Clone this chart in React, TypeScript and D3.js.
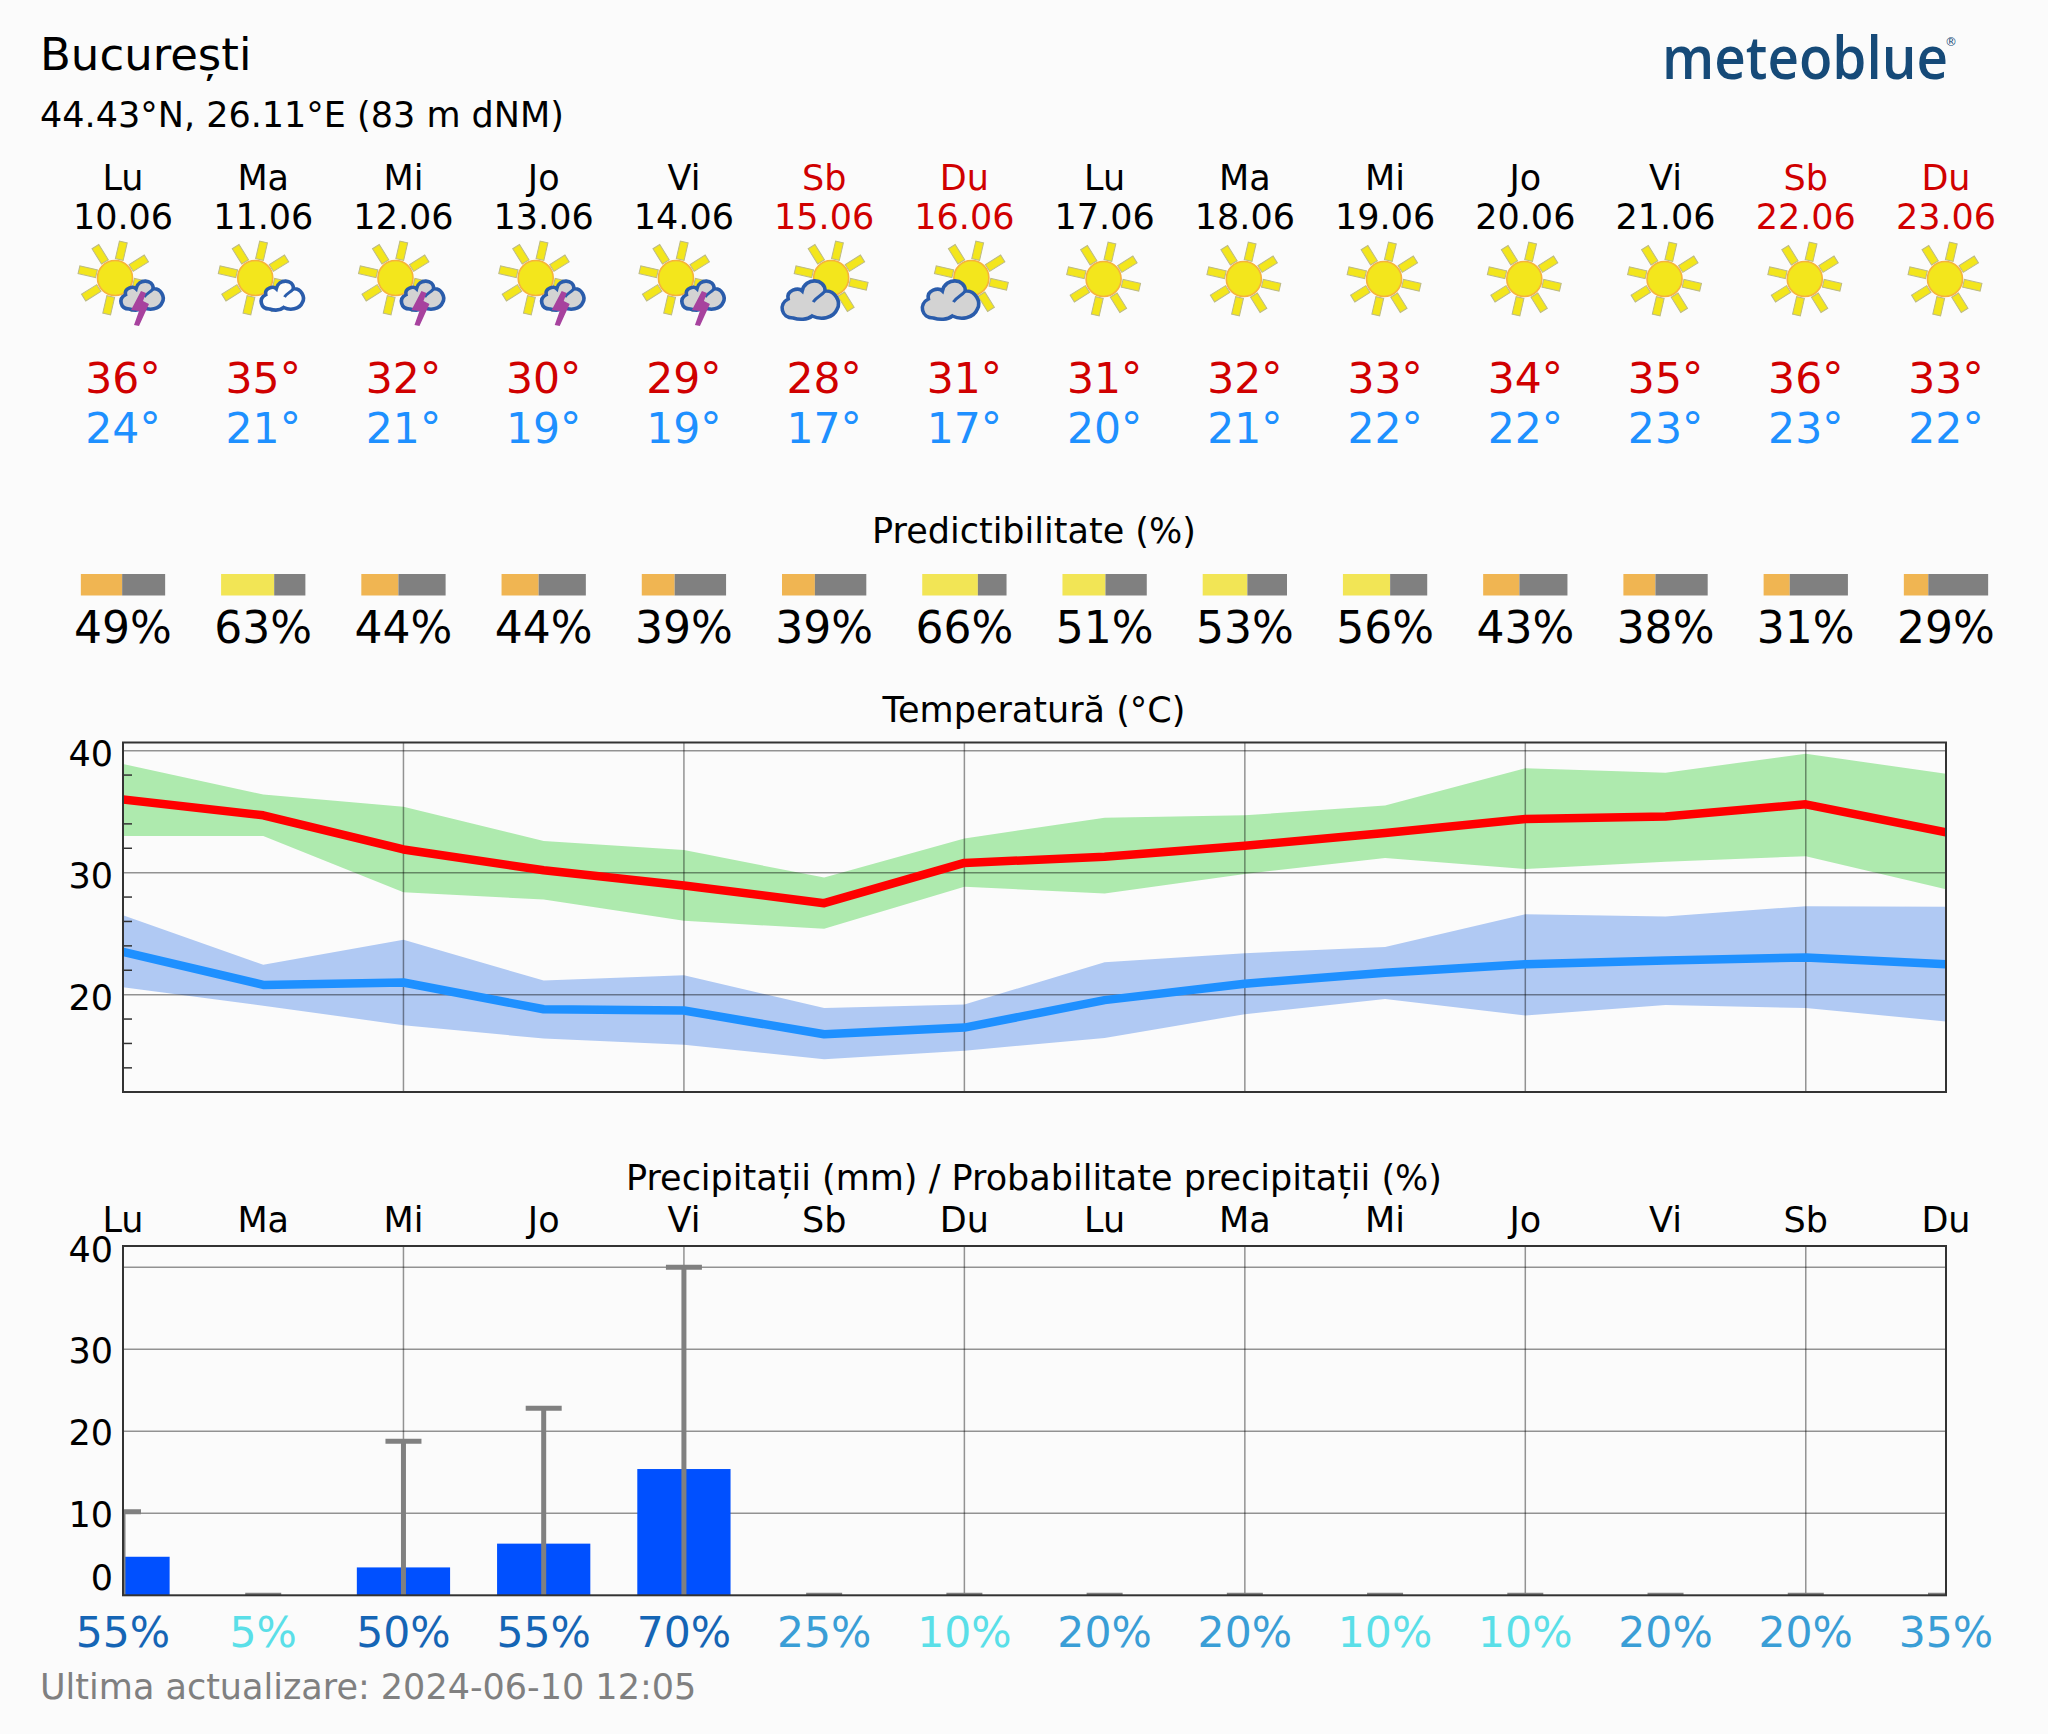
import React from "react";
import * as d3 from "d3";

const weekdays = ["Lu", "Ma", "Mi", "Jo", "Vi", "Sb", "Du", "Lu", "Ma", "Mi", "Jo", "Vi", "Sb", "Du"];
const dates = ["10.06", "11.06", "12.06", "13.06", "14.06", "15.06", "16.06", "17.06", "18.06", "19.06", "20.06", "21.06", "22.06", "23.06"];
const icons = ["storm", "cloud", "storm", "storm", "storm", "grey", "grey", "sun", "sun", "sun", "sun", "sun", "sun", "sun"];
const maxLabels = [36, 35, 32, 30, 29, 28, 31, 31, 32, 33, 34, 35, 36, 33];
const minLabels = [24, 21, 21, 19, 19, 17, 17, 20, 21, 22, 22, 23, 23, 22];
const predictability = [49, 63, 44, 44, 39, 39, 66, 51, 53, 56, 43, 38, 31, 29];
const tMax = [36.0, 34.7, 31.9, 30.2, 28.95, 27.5, 30.8, 31.3, 32.2, 33.25, 34.4, 34.6, 35.6, 33.3];
const tMaxHigh = [38.9, 36.4, 35.4, 32.6, 31.85, 29.6, 32.8, 34.5, 34.7, 35.5, 38.55, 38.2, 39.75, 38.1];
const tMaxLow = [33.0, 33.0, 28.4, 27.8, 26.05, 25.4, 28.85, 28.3, 29.9, 31.2, 30.3, 30.9, 31.35, 28.65];
const tMin = [23.5, 20.8, 21.0, 18.8, 18.7, 16.75, 17.3, 19.55, 20.9, 21.8, 22.5, 22.8, 23.05, 22.5];
const tMinHigh = [26.5, 22.45, 24.5, 21.15, 21.6, 18.9, 19.2, 22.65, 23.4, 23.9, 26.6, 26.4, 27.25, 27.2];
const tMinLow = [20.6, 19.1, 17.5, 16.4, 15.9, 14.7, 15.4, 16.45, 18.4, 19.65, 18.3, 19.15, 18.9, 17.8];
const tempTicks = [40, 30, 20];
const tempMinorTicks = [38, 36, 34, 32, 28, 26, 24, 22, 18, 16, 14];
const precip = [4.7, 0, 3.4, 6.3, 15.4, 0, 0, 0, 0, 0, 0, 0, 0, 0];
const precipHigh = [10.2, 0, 18.8, 22.8, 40, 0, 0, 0, 0, 0, 0, 0, 0, 0];
const precipTicks = [40, 30, 20, 10, 0];
const precipProb = [55, 5, 50, 55, 70, 25, 10, 20, 20, 10, 10, 20, 20, 35];
const gridDays = [2, 4, 6, 8, 10, 12];

const FONT = "'DejaVu Sans', sans-serif";
const BG = "#fbfbfb";
const RED = "#d00000";
const L = 123;
const R = 1946;
const days = d3.range(14);
const x = d3.scaleLinear().domain([0, 13]).range([L, R]);
const yT = d3.scaleLinear().domain([12.02, 40.67]).range([1092, 742.5]);
const yP = d3.scaleLinear().domain([0, 42.6]).range([1595.3, 1246]);

const areaPath = (hi: number[], lo: number[]) =>
  d3.area<number>().x((i) => x(i)).y0((i) => yT(lo[i])).y1((i) => yT(hi[i]))(days) as string;
const linePath = (v: number[]) =>
  d3.line<number>().x((i) => x(i)).y((i) => yT(v[i]))(days) as string;

const probColor = (p: number) => (p >= 50 ? "#1565b5" : p >= 20 ? "#3a9ed6" : "#5adfe8");

const CLOUD =
  "M-17 20 C-29 20 -32 6 -22 1 C-24 -8 -12 -11 -8 -7 C-5 -21 15 -20 15 -7 C25 -8 31 4 27 11 C23 21 10 22 2 18 C-3 22 -11 22 -17 20 Z";
const CURL = "M3 4 C6 -1 11 -2 15 -7";
const BOLT = "M-2 -2 L3 0 L0 8 L6 11 L-4 33 L-9 32 L-4 18 L-12 17 Z";

function Sun({ cx, cy }: { cx: number; cy: number }) {
  const angles = [13, 58, 103, 148, 193, 238, 283, 328];
  return (
    <g transform={`translate(${cx},${cy})`}>
      {angles.map((a) => (
        <rect key={a} x={19} y={-4} width={18} height={8} fill="#f3e61c" stroke="#bdbb86" strokeWidth={1} transform={`rotate(${a})`} />
      ))}
      <circle r={17.5} fill="#f3e61c" stroke="#f6b23c" strokeWidth={1.6} />
    </g>
  );
}

function Cloud({ cx, cy, k, fill }: { cx: number; cy: number; k: number; fill: string }) {
  return (
    <g transform={`translate(${cx},${cy}) scale(${k})`}>
      <path d={CLOUD} fill={fill} stroke="#2a5cab" strokeWidth={3.6 / k} />
      <path d={CURL} fill="none" stroke="#2a5cab" strokeWidth={3 / k} />
    </g>
  );
}

function Icon({ kind, cx }: { kind: string; cx: number }) {
  if (kind === "sun") return <Sun cx={cx - 1} cy={279} />;
  if (kind === "grey")
    return (
      <g>
        <Sun cx={cx + 7} cy={278} />
        <Cloud cx={cx - 14} cy={298} k={1} fill="#d3d3d3" />
      </g>
    );
  return (
    <g>
      <Sun cx={cx - 8} cy={278} />
      <Cloud cx={cx + 19} cy={294} k={0.75} fill={kind === "storm" ? "#d3d3d3" : BG} />
      {kind === "storm" && <path d={BOLT} transform={`translate(${cx + 20},293)`} fill="#a7429e" />}
    </g>
  );
}

function Frame({ top, bottom }: { top: number; bottom: number }) {
  return <rect x={L} y={top} width={R - L} height={bottom - top} fill="none" stroke="#333" strokeWidth={2} />;
}

export default function App() {
  const barW = (x(1) - x(0)) * 0.665;
  const capW = 36;
  return (
    <svg width={2048} height={1734} style={{ position: "absolute", left: 0, top: 0, background: BG }} fontFamily={FONT}>
      <defs>
        <clipPath id="tempClip"><rect x={L} y={742.5} width={R - L} height={349.5} /></clipPath>
        <clipPath id="precipClip"><rect x={L} y={1246} width={R - L} height={349.3} /></clipPath>
        <filter id="soft" x="-10%" y="-10%" width="120%" height="120%"><feGaussianBlur stdDeviation="0.6" /></filter>
      </defs>

      <text x={40} y={70} fontSize={45} fill="#000">București</text>
      <text x={40} y={127} fontSize={35} fill="#000">44.43°N, 26.11°E (83 m dNM)</text>
      <text x={1662} y={79} fontSize={59} fontWeight={600} fontFamily="'Open Sans', sans-serif" fill="#164a78" textLength={286} lengthAdjust="spacingAndGlyphs">meteoblue</text>
      <text x={1951} y={46} fontSize={12} textAnchor="middle" fill="#164a78">®</text>

      {days.map((i) => {
        const weekend = weekdays[i] === "Sb" || weekdays[i] === "Du";
        const c = weekend ? RED : "#000";
        return (
          <g key={i} textAnchor="middle">
            <text x={x(i)} y={190} fontSize={35} fill={c}>{weekdays[i]}</text>
            <text x={x(i)} y={229} fontSize={35} fill={c}>{dates[i]}</text>
            <g filter="url(#soft)"><Icon kind={icons[i]} cx={x(i)} /></g>
            <text x={x(i)} y={392.5} fontSize={42.5} fill={RED}>{maxLabels[i]}°</text>
            <text x={x(i)} y={443} fontSize={42.5} fill="#1e90ff">{minLabels[i]}°</text>
          </g>
        );
      })}

      <text x={1034} y={543} fontSize={35} textAnchor="middle">Predictibilitate (%)</text>
      {days.map((i) => {
        const w = 84.3;
        const left = x(i) - w / 2;
        const split = (predictability[i] / 100) * w;
        return (
          <g key={i}>
            <rect x={left} y={574} width={split} height={21.5} fill={predictability[i] >= 50 ? "#f2e555" : "#f0b552"} />
            <rect x={left + split} y={574} width={w - split} height={21.5} fill="#808080" />
            <text x={x(i)} y={643} fontSize={44} textAnchor="middle">{predictability[i]}%</text>
          </g>
        );
      })}

      <text x={1034} y={722} fontSize={35} textAnchor="middle">Temperatură (°C)</text>
      <g clipPath="url(#tempClip)">
        <path d={areaPath(tMaxHigh, tMaxLow)} fill="#aeeaae" />
        <path d={areaPath(tMinHigh, tMinLow)} fill="#b0c9f3" />
        {tempTicks.map((t) => (
          <line key={t} x1={L} x2={R} y1={yT(t)} y2={yT(t)} stroke="#000" strokeOpacity={0.42} strokeWidth={1.5} />
        ))}
        {gridDays.map((d) => (
          <line key={d} x1={x(d)} x2={x(d)} y1={742.5} y2={1092} stroke="#000" strokeOpacity={0.42} strokeWidth={1.5} />
        ))}
        {tempMinorTicks.map((t) => (
          <line key={t} x1={L} x2={L + 9} y1={yT(t)} y2={yT(t)} stroke="#333" strokeWidth={1.5} />
        ))}
        <path d={linePath(tMax)} fill="none" stroke="#ff0000" strokeWidth={8.5} strokeLinejoin="round" />
        <path d={linePath(tMin)} fill="none" stroke="#1e90ff" strokeWidth={8.5} strokeLinejoin="round" />
      </g>
      <Frame top={742.5} bottom={1092} />
      {tempTicks.map((t) => (
        <text key={t} x={113} y={yT(t) + 15} fontSize={35} textAnchor="end">{t}</text>
      ))}

      <text x={1034} y={1190} fontSize={35} textAnchor="middle">Precipitații (mm) / Probabilitate precipitații (%)</text>
      {days.map((i) => (
        <text key={i} x={x(i)} y={1232} fontSize={35} textAnchor="middle">{weekdays[i]}</text>
      ))}
      <g clipPath="url(#precipClip)">
        {precipTicks.filter((t) => t > 0).map((t) => (
          <line key={t} x1={L} x2={R} y1={yP(t)} y2={yP(t)} stroke="#000" strokeOpacity={0.42} strokeWidth={1.5} />
        ))}
        {gridDays.map((d) => (
          <line key={d} x1={x(d)} x2={x(d)} y1={1246} y2={1595.3} stroke="#000" strokeOpacity={0.42} strokeWidth={1.5} />
        ))}
        {days.filter((i) => precip[i] > 0).map((i) => (
          <rect key={i} x={x(i) - barW / 2} y={yP(precip[i])} width={barW} height={yP(0) - yP(precip[i])} fill="#0050ff" />
        ))}
        {days.map((i) => (
          <g key={i} stroke="#808080" strokeWidth={5}>
            <line x1={x(i)} x2={x(i)} y1={yP(0)} y2={yP(precipHigh[i])} />
            <line x1={x(i) - capW / 2} x2={x(i) + capW / 2} y1={yP(precipHigh[i])} y2={yP(precipHigh[i])} />
          </g>
        ))}
      </g>
      <Frame top={1246} bottom={1595.3} />
      {precipTicks.map((t) => (
        <text key={t} x={113} y={yP(t) + 14 - (t === 40 || t === 0 ? 19 : 0)} fontSize={35} textAnchor="end">{t}</text>
      ))}
      {days.map((i) => (
        <text key={i} x={x(i)} y={1647} fontSize={42.5} textAnchor="middle" fill={probColor(precipProb[i])}>{precipProb[i]}%</text>
      ))}
      <text x={40} y={1699} fontSize={35} fill="#808080">Ultima actualizare: 2024-06-10 12:05</text>
    </svg>
  );
}
